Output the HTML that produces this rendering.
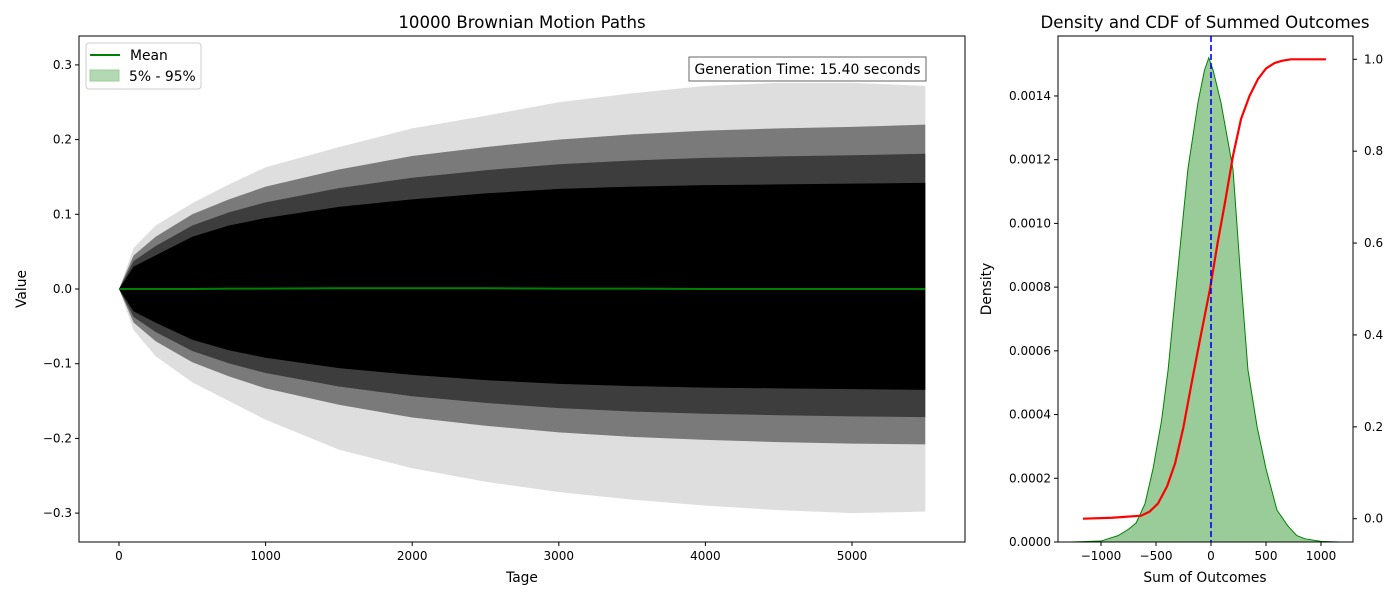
<!DOCTYPE html>
<html><head><meta charset="utf-8"><style>
body{margin:0;background:#fff;}
svg{display:block;font-family:"DejaVu Sans","Liberation Sans",sans-serif;}
</style></head><body>
<svg id="chart" width="1400" height="600" viewBox="0 0 1400 600" xmlns="http://www.w3.org/2000/svg"></svg>
<script>
// ---- data ----
const pathTimes = [0,100,250,500,750,1000,1500,2000,2500,3000,3500,4000,4500,5000,5500];
const coreUpper = [0,0.03,0.045,0.07,0.085,0.095,0.11,0.12,0.128,0.134,0.137,0.139,0.14,0.141,0.142];
const coreLower = [0,-0.03,-0.045,-0.068,-0.082,-0.092,-0.106,-0.115,-0.122,-0.127,-0.13,-0.132,-0.133,-0.134,-0.135];
const haloUpper = [0,0.045,0.07,0.1,0.12,0.137,0.16,0.178,0.19,0.2,0.207,0.212,0.215,0.217,0.22];
const haloLower = [0,-0.045,-0.07,-0.098,-0.117,-0.133,-0.155,-0.172,-0.183,-0.192,-0.198,-0.202,-0.205,-0.207,-0.208];
const fringeUpper = [0,0.055,0.085,0.115,0.14,0.163,0.19,0.215,0.232,0.25,0.262,0.272,0.276,0.276,0.272];
const fringeLower = [0,-0.055,-0.09,-0.125,-0.15,-0.175,-0.215,-0.24,-0.258,-0.272,-0.282,-0.29,-0.296,-0.3,-0.298];
const meanValues = [0,0,0,0,0.0005,0.0005,0.001,0.001,0.001,0.0005,0.0005,0,0,0,0];
const xTicks = [0,1000,2000,3000,4000,5000];
const yTicks = [-0.3,-0.2,-0.1,0.0,0.1,0.2,0.3];
const densX = [-1270,-1000,-845,-750,-680,-600,-527,-450,-390,-300,-210,-118,-60,-20,20,90,200,264,336,420,500,600,700,780,855,1000,1170];
const densY = [0,0.000003,0.00002,0.00004,0.00006,0.00012,0.00023,0.00038,0.00054,0.00086,0.00117,0.00138,0.00148,0.00152,0.00148,0.00138,0.00117,0.00086,0.00054,0.00036,0.00023,0.0001,0.00005,0.00002,0.00001,0.000002,0];
const cdfX = [-1164,-900,-636,-560,-482,-400,-327,-250,-182,-100,-9,60,127,200,273,350,427,500,580,650,727,850,1045];
const cdfY = [0,0.002,0.0065,0.015,0.033,0.07,0.12,0.2,0.288,0.39,0.5,0.6,0.688,0.79,0.87,0.92,0.957,0.98,0.992,0.997,1,1,1];
const densXTicks = [-1000,-500,0,500,1000];
const densYTicks = [0,0.0002,0.0004,0.0006,0.0008,0.001,0.0012,0.0014];
const cdfTicks = [0,0.2,0.4,0.6,0.8,1.0];

const svg = document.getElementById('chart');
const NS = 'http://www.w3.org/2000/svg';
function mk(tag, attrs, parent){const e=document.createElementNS(NS,tag);for(const k in attrs)e.setAttribute(k,attrs[k]);(parent||svg).appendChild(e);return e;}
function txt(s,attrs,parent){const e=mk('text',attrs,parent);e.textContent=s;return e;}
const fmtMinus = s => String(s).replace('-','\u2212');

// ---- left axes ----
const L={x0:79,x1:965,y0:36,y1:542};
const lx = t => 119 + t*0.1466;
const ly = v => 289 - v*747;
const gL = mk('g',{});


function band(up,lo,fill,op,name){
  let d='M'+pathTimes.map((t,i)=>lx(t)+','+ly(up[i])).join(' L');
  for(let i=pathTimes.length-1;i>=0;i--) d+=' L'+lx(pathTimes[i])+','+ly(lo[i]);
  const p=mk('path',{d:d+'Z',fill:fill,'fill-opacity':op},gL);
  
  
}
band(fringeUpper,fringeLower,'#000',0.13,'path-fringe');
band(haloUpper,haloLower,'#000',0.45,'path-halo');
band(coreUpper.map((v,i)=>(v+haloUpper[i])/2),coreLower.map((v,i)=>(v+haloLower[i])/2),'#000',0.5,'path-halo-inner');
band(coreUpper,coreLower,'#000',1,'path-core');
const mean=mk('polyline',{points:pathTimes.map((t,i)=>lx(t)+','+ly(meanValues[i])).join(' '),fill:'none',stroke:'#008000','stroke-width':2},gL);


mk('rect',{x:L.x0,y:L.y0,width:L.x1-L.x0,height:L.y1-L.y0,fill:'none',stroke:'#000','stroke-width':1},gL);
xTicks.forEach(t=>{const x=lx(t);mk('line',{x1:x,x2:x,y1:L.y1,y2:L.y1+4,stroke:'#000'},gL);
  const e=txt(String(t),{x:x,y:L.y1+18,'font-size':12,'text-anchor':'middle'},gL);
  });
yTicks.forEach(v=>{const y=ly(v);mk('line',{x1:L.x0-4,x2:L.x0,y1:y,y2:y,stroke:'#000'},gL);
  const e=txt(fmtMinus(v.toFixed(1)),{x:L.x0-7,y:y+4,'font-size':12,'text-anchor':'end'},gL);
  });
txt('10000 Brownian Motion Paths',{x:522,y:28,'font-size':16.6,'text-anchor':'middle',},gL);
txt('Tage',{x:522,y:582,'font-size':13.8,'text-anchor':'middle',},gL);
txt('Value',{x:0,y:0,'font-size':13.8,'text-anchor':'middle',transform:'translate(26,289) rotate(-90)',},gL);
// legend
const lg=mk('g',{},gL);
mk('rect',{x:86,y:43,width:115,height:46,rx:3,fill:'#fff','fill-opacity':0.8,stroke:'#ccc'},lg);
mk('line',{x1:90,x2:120,y1:55,y2:55,stroke:'#008000','stroke-width':2},lg);
txt('Mean',{x:130,y:60,'font-size':13.9,},lg);
mk('rect',{x:90,y:70,width:29,height:11,fill:'#b3d9b3',stroke:'#9ccc9c'},lg);
txt('5% - 95%',{x:129,y:81,'font-size':13.9,},lg);
mk('rect',{x:689,y:57,width:237,height:24,fill:'#fff',stroke:'#666',},gL);
txt('Generation Time: 15.40 seconds',{x:807.5,y:74,'font-size':13.9,'text-anchor':'middle',},gL);

// ---- right axes ----
const R={x0:1058,x1:1353,y0:36,y1:542};
const rx = v => 1211 + v*0.11;
const ry = v => 542 - v*318600;
const ry2 = v => 518.7 - v*459.4;
const gR=mk('g',{});
let dd='M'+densX.map((x,i)=>rx(x)+','+ry(densY[i])).join(' L');
const area=mk('path',{d:dd+' L'+rx(densX[densX.length-1])+','+ry(0)+' L'+rx(densX[0])+','+ry(0)+'Z',fill:'#99cc99'},gR);


const dl=mk('path',{d:dd,fill:'none',stroke:'#008000','stroke-width':1},gR);


const cl=mk('polyline',{points:cdfX.map((x,i)=>rx(x)+','+ry2(cdfY[i])).join(' '),fill:'none',stroke:'#ff0000','stroke-width':2.2,'stroke-linejoin':'round'},gR);


mk('line',{x1:rx(0),x2:rx(0),y1:R.y0,y2:R.y1,stroke:'#0000ff','stroke-width':1.6,'stroke-dasharray':'6,3',},gR);
mk('rect',{x:R.x0,y:R.y0,width:R.x1-R.x0,height:R.y1-R.y0,fill:'none',stroke:'#000'},gR);
densXTicks.forEach(t=>{const x=rx(t);mk('line',{x1:x,x2:x,y1:R.y1,y2:R.y1+4,stroke:'#000'},gR);
  const e=txt(fmtMinus(t),{x:x,y:R.y1+18,'font-size':12,'text-anchor':'middle'},gR);
  });
densYTicks.forEach(v=>{const y=ry(v);mk('line',{x1:R.x0-4,x2:R.x0,y1:y,y2:y,stroke:'#000'},gR);
  const e=txt(v.toFixed(4),{x:R.x0-7,y:y+4,'font-size':12,'text-anchor':'end'},gR);
  });
cdfTicks.forEach(v=>{const y=ry2(v);mk('line',{x1:R.x1,x2:R.x1+4,y1:y,y2:y,stroke:'#000'},gR);
  const e=txt(v.toFixed(1),{x:R.x1+11,y:y+4,'font-size':12},gR);
  });
txt('Density and CDF of Summed Outcomes',{x:1205,y:28,'font-size':16.6,'text-anchor':'middle',},gR);
txt('Sum of Outcomes',{x:1205,y:582,'font-size':13.8,'text-anchor':'middle',},gR);
txt('Density',{x:0,y:0,'font-size':13.8,'text-anchor':'middle',transform:'translate(991,289) rotate(-90)',},gR);
</script>
</body></html>
